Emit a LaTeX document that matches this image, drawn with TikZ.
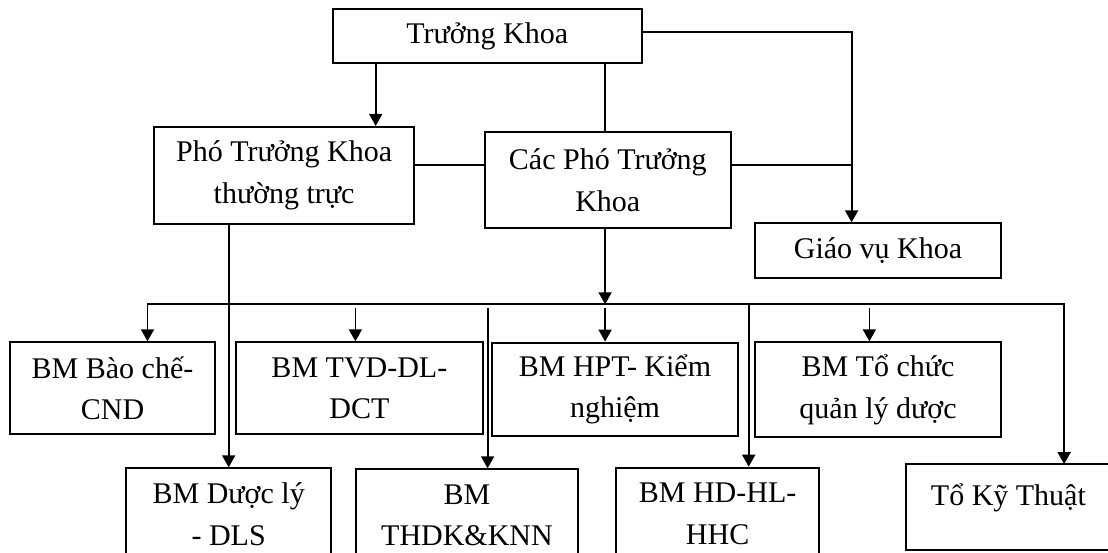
\documentclass[tikz,border=0pt]{standalone}
\usepackage{fontspec}
\setmainfont{Liberation Serif}
\usetikzlibrary{arrows.meta}
\begin{document}
\begin{tikzpicture}[x=1pt,y=-1pt,
  box/.style={draw,line width=2pt,rectangle,inner sep=0pt,align=center,font=\fontsize{30}{41.5}\selectfont},
  openbox/.style={rectangle,inner sep=0pt},
  lbl/.style={inner sep=0pt,font=\fontsize{30}{41.5}\selectfont},
  edge3/.style={line width=2pt},
  conn/.style={line width=1.8pt},
  arr/.style={conn,-{Triangle[length=12pt,width=13pt]}},
  arrs/.style={conn,{Triangle[length=12pt,width=13pt]}-{Triangle[length=12pt,width=13pt]}},
]
\useasboundingbox (0,0) rectangle (1108,553);
\clip (0,0) rectangle (1108,553);

% boxes
\node[box,minimum width=308.7pt,minimum height=53.7pt] (tk) at (487.2,35.9) {Trưởng Khoa};
\node[box,minimum width=260.4pt,minimum height=96.7pt] (ptt) at (284.1,175.3) {Phó Trưởng Khoa\\thường trực};
\node[box,minimum width=246.3pt,minimum height=96.6pt] (cpt) at (607.8,180) {Các Phó Trưởng\\Khoa};
\node[box,minimum width=245.8pt,minimum height=54.7pt] (gv) at (878,250.7) {Giáo vụ Khoa};

\node[box,minimum width=205.8pt,minimum height=92pt] (bc) at (112.5,388.3) {BM Bào chế-\\CND};
\node[box,minimum width=246.9pt,minimum height=92pt] (tvd) at (359.4,388.3) {BM TVD-DL-\\DCT};
\node[box,minimum width=246.6pt,minimum height=93.3pt] (hpt) at (615,389.3) {BM HPT- Kiểm\\nghiệm};
\node[box,minimum width=245.8pt,minimum height=95pt] (tc) at (878,389.8) {BM Tổ chức\\quản lý dược};

\node[box,minimum width=205.4pt,minimum height=92pt] (dl) at (228.7,514.3) {BM Dược lý\\- DLS};
\node[box,minimum width=222.6pt,minimum height=92pt] (thdk) at (467,515.3) {BM\\THDK\&KNN};
\node[box,minimum width=203.5pt,minimum height=92pt] (hd) at (717.6,513.7) {BM HD-HL-\\HHC};
\node[openbox,minimum width=230pt,minimum height=85.7pt] (tkt) at (1020.7,507.2) {};
\draw[edge3] (tkt.north east) -- (tkt.north west) -- (tkt.south west) -- (tkt.south east);
\node[lbl,anchor=base] (tktl) at (1008.4,505) {Tổ Kỹ Thuật};

% reference columns and rows
\coordinate (c1) at (375.7,0);
\coordinate (c2) at (605.1,0);
\coordinate (c3) at (851.6,0);
\coordinate (xtvd) at (355.4,0);
\coordinate (xth) at (487.6,0);
\coordinate (xhd) at (748.7,0);
\coordinate (xtc) at (869.4,0);
\coordinate (busL) at (147.5,304.3);
\coordinate (busR) at (1064.1,304.3);
\coordinate (bus2) at (0,308.3);
\coordinate (r1) at (0,31.7);
\coordinate (r2) at (0,164.7);

% connectors
\draw[arr] (tk.south -| c1) -- (ptt.north -| c1);
\draw[conn] (tk.south -| c2) -- (cpt.north -| c2);
\draw[conn] (ptt.east |- r2) -- (cpt.west |- r2);
\draw[arr] (tk.east |- r1) -- (c3 |- r1) -- (gv.north -| c3);
\draw[conn] (cpt.east |- r2) -- (c3 |- r2);
\draw[arr] (cpt.south -| c2) -- (busL -| c2);
\draw[arrs] (bc.north -| busL) -- (busL) -- (busR) -- (tkt.north -| busR);
\draw[arr] (bus2 -| xtvd) -- (tvd.north -| xtvd);
\draw[arr] (bus2 -| c2) -- (hpt.north -| c2);
\draw[arr] (bus2 -| xtc) -- (tc.north -| xtc);
\draw[arr] (ptt.south -| dl.north) -- (dl.north);
\draw[arr] (bus2 -| xth) -- (thdk.north -| xth);
\draw[arr] (busL -| xhd) -- (hd.north -| xhd);
\end{tikzpicture}
\end{document}
